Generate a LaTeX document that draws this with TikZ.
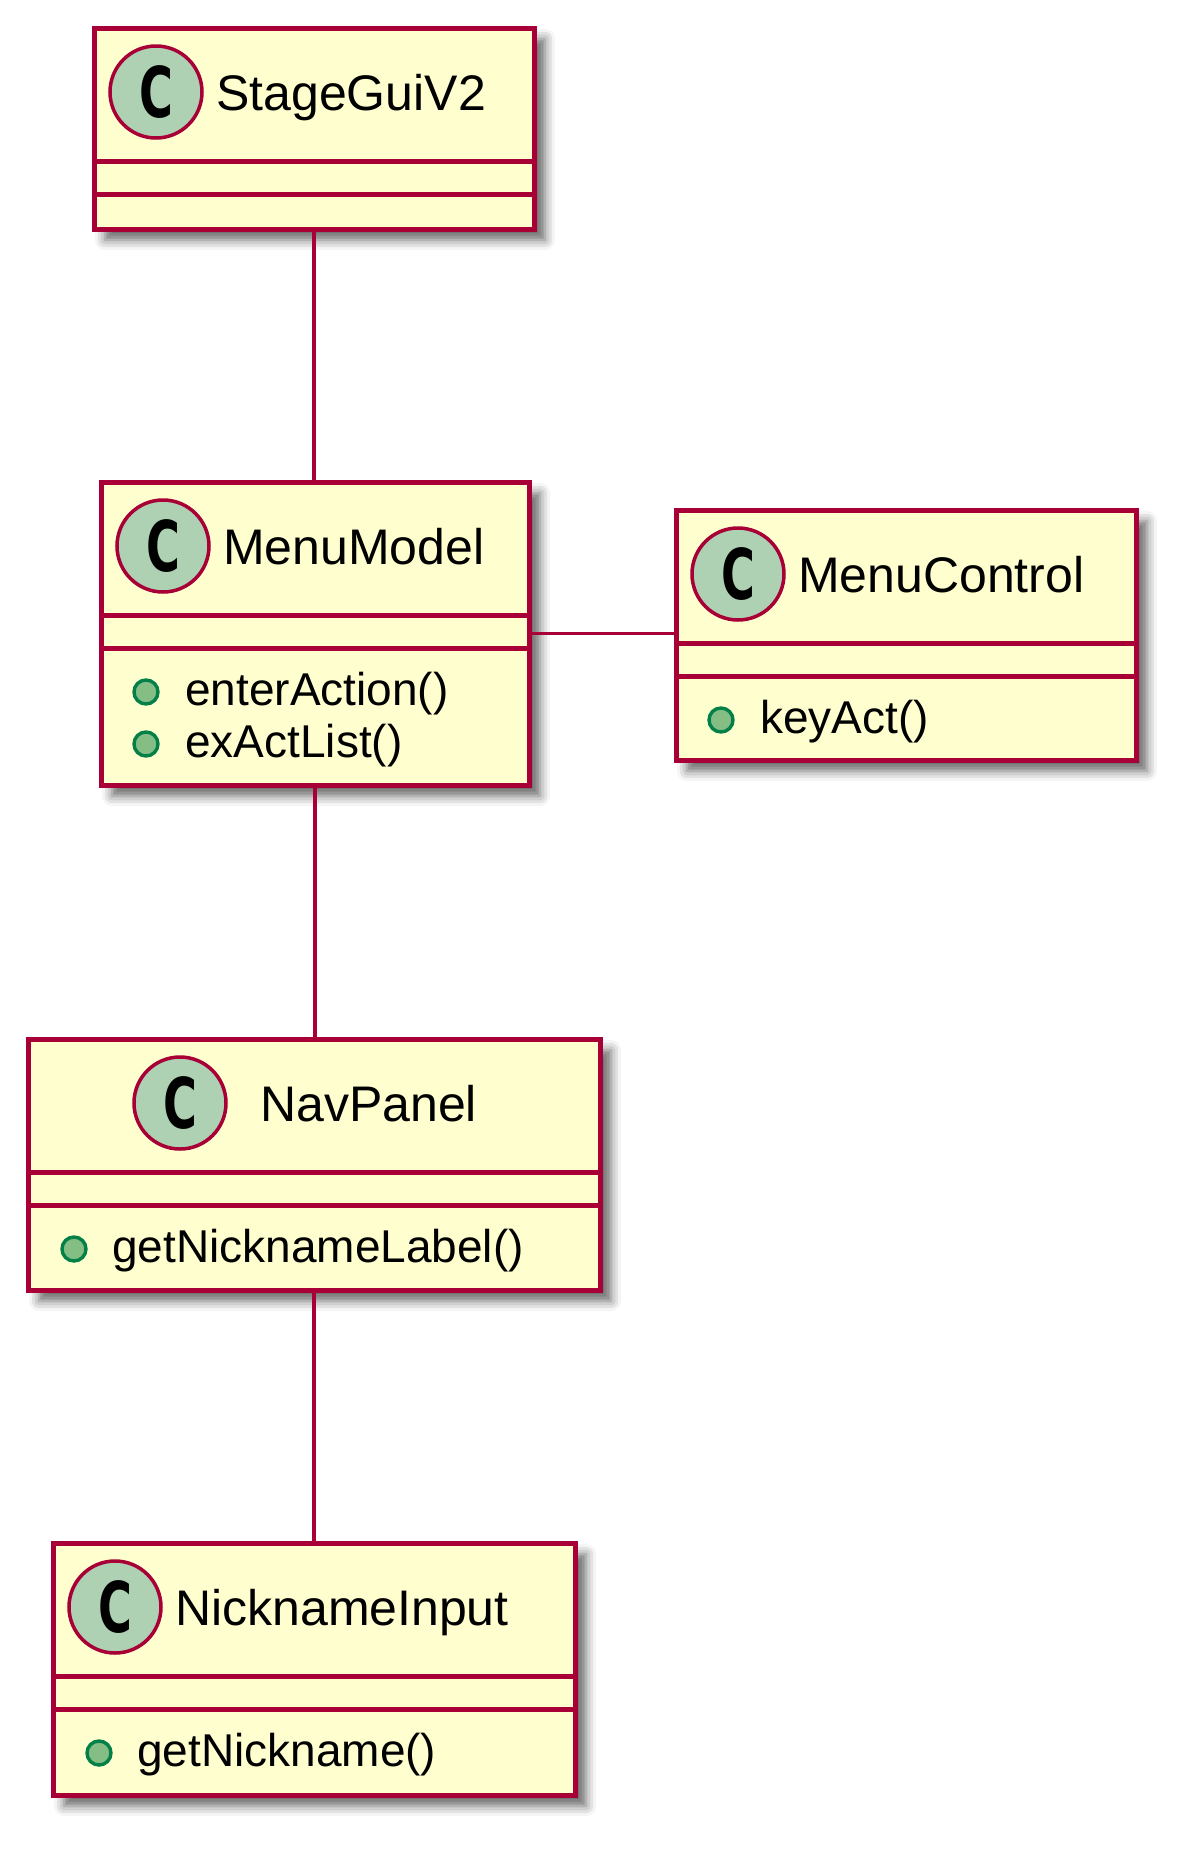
\documentclass[tikz,border=0pt]{standalone}
\usepackage{fontspec}
\setmainfont{Liberation Sans}
\newfontfamily\glyphfont{DejaVu Sans}
\usetikzlibrary{shadows.blur}

\definecolor{umlborder}{HTML}{A80036}
\definecolor{umlfill}{HTML}{FEFECE}
\definecolor{badgefill}{HTML}{ADD1B2}
\definecolor{methfill}{HTML}{84BE84}
\definecolor{methborder}{HTML}{038048}

\newcommand{\classglyph}{\scalebox{0.66}[1]{\fontsize{70}{70}\glyphfont\bfseries C}}

\begin{document}
\begin{tikzpicture}[
	x=1pt, y=-1pt,
	classbox/.style={rectangle, draw=umlborder, fill=umlfill, line width=5pt, inner sep=0pt, outer sep=0pt,
		blur shadow={shadow xshift=11pt, shadow yshift=-11pt, shadow blur radius=10pt, shadow opacity=60}},
	divider/.style={draw=umlborder, line width=5pt},
	assoc/.style={draw=umlborder, line width=3.5pt},
	badge/.style={circle, draw=umlborder, fill=badgefill, line width=3.5pt, minimum size=92pt, inner sep=0pt},
	methdot/.style={circle, draw=methborder, fill=methfill, line width=3.4pt, minimum size=24pt, inner sep=0pt},
	classname/.style={anchor=base west, inner sep=0pt, font=\fontsize{50}{60}\selectfont},
	methname/.style={anchor=base west, inner sep=0pt, font=\fontsize{46}{55}\selectfont},
]

\useasboundingbox (0,0) rectangle (1196,1850);

%%% CLASS BOXES
\node [classbox, minimum width=440pt, minimum height=201pt] (stage) at (314,128.5) {};
\node [classbox, minimum width=428pt, minimum height=303pt] (model) at (315,633.5) {};
\node [classbox, minimum width=460pt, minimum height=250pt] (control) at (906,635) {};
\node [classbox, minimum width=572pt, minimum height=251pt] (nav) at (314,1164.5) {};
\node [classbox, minimum width=522pt, minimum height=252pt] (input) at (314,1669) {};

\foreach \c in {stage,model,control,nav,input} {
	\draw [divider] ([yshift=-133pt]\c.north west) -- ([yshift=-133pt]\c.north east);
	\draw [divider] ([yshift=-166pt]\c.north west) -- ([yshift=-166pt]\c.north east);
}

%%% HEADERS
\node [badge] (stageC) at ([xshift=62pt,yshift=-64pt]stage.north west) {\classglyph};
\node [classname] (stageN) at ([xshift=122pt,yshift=-82pt]stage.north west) {StageGuiV2};

\node [badge] (modelC) at ([xshift=62pt,yshift=-64pt]model.north west) {\classglyph};
\node [classname] (modelN) at ([xshift=122pt,yshift=-82pt]model.north west) {MenuModel};

\node [badge] (controlC) at ([xshift=62pt,yshift=-64pt]control.north west) {\classglyph};
\node [classname] (controlN) at ([xshift=122pt,yshift=-82pt]control.north west) {MenuControl};

\node [badge] (navC) at ([xshift=152pt,yshift=-64pt]nav.north west) {\classglyph};
\node [classname] (navN) at ([xshift=232pt,yshift=-82pt]nav.north west) {NavPanel};

\node [badge] (inputC) at ([xshift=62pt,yshift=-64pt]input.north west) {\classglyph};
\node [classname] (inputN) at ([xshift=122pt,yshift=-82pt]input.north west) {NicknameInput};

%%% METHODS
\node [methdot] (modelD1) at ([xshift=45pt,yshift=-210pt]model.north west) {};
\node [methname] (modelM1) at ([xshift=84pt,yshift=-223pt]model.north west) {enterAction()};
\node [methdot] (modelD2) at ([xshift=45pt,yshift=-262pt]model.north west) {};
\node [methname] (modelM2) at ([xshift=84pt,yshift=-275pt]model.north west) {exActList()};

\node [methdot] (controlD1) at ([xshift=45pt,yshift=-210pt]control.north west) {};
\node [methname] (controlM1) at ([xshift=84pt,yshift=-223pt]control.north west) {keyAct()};

\node [methdot] (navD1) at ([xshift=46pt,yshift=-210pt]nav.north west) {};
\node [methname] (navM1) at ([xshift=84pt,yshift=-223pt]nav.north west) {getNicknameLabel()};

\node [methdot] (inputD1) at ([xshift=46pt,yshift=-210pt]input.north west) {};
\node [methname] (inputM1) at ([xshift=84pt,yshift=-223pt]input.north west) {getNickname()};

%%% ASSOCIATIONS
\draw [assoc] (stage.south) -- (stage.south |- model.north);
\draw [assoc] (model.east) -- (model.east -| control.west);
\draw [assoc] (model.south) -- (model.south |- nav.north);
\draw [assoc] (nav.south) -- (nav.south |- input.north);

\end{tikzpicture}
\end{document}
